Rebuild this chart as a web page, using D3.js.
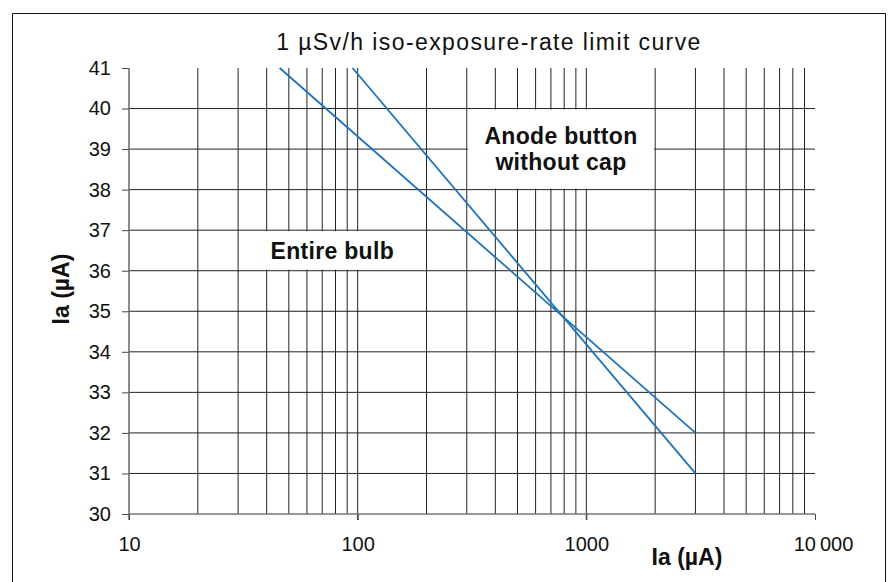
<!DOCTYPE html>
<html>
<head>
<meta charset="utf-8">
<script src="https://cdn.jsdelivr.net/npm/d3@7/dist/d3.min.js"></script>
<style>
  html, body { margin: 0; padding: 0; background: #fff; }
  svg { display: block; }
  text { font-family: "Liberation Sans", Arial, sans-serif; fill: #111; }
</style>
</head>
<body>
<div id="chart"></div>
<script>
// values
var xTickLabels = [10, 100, 1000, 10000];
var yTickLabels = [30, 31, 32, 33, 34, 35, 36, 37, 38, 39, 40, 41];

// both limit curves are straight lines on the log axis
var entireBulb = [[45.6, 41], [3000, 32]];
var anodeButton = [[95, 41], [3000, 31]];

var labels = [
  {lines: ['Entire bulb'], x0: 30, x1: 200, y0: 36, y1: 37},
  {lines: ['Anode button', 'without cap'], x0: 300, x1: 2000, y0: 38, y1: 40}
];

var width = 888, height = 582;

var svg = d3.select('#chart').append('svg')
  .attr('width', width)
  .attr('height', height);

var x = d3.scaleLog().domain([10, 10000]).range([129, 815]);
var y = d3.scaleLinear().domain([30, 41]).range([514, 68]);

// frame around the whole figure (bottom edge runs off the picture)
svg.append('path')
  .attr('d', 'M12.5,600V13.5H885.5V600')
  .attr('fill', 'none')
  .attr('stroke', '#111')
  .attr('stroke-width', 1);

svg.append('text')
  .attr('x', 489)
  .attr('y', 50)
  .attr('text-anchor', 'middle')
  .style('font-size', '23px')
  .style('letter-spacing', '1.4px')
  .text('1 \u00b5Sv/h iso-exposure-rate limit curve');

var grid = svg.append('g');

// horizontal grid 31..40
grid.selectAll('.hline')
  .data(yTickLabels.filter(function (d) { return d > 30 && d < 41; }))
  .enter().append('line')
  .attr('x1', x(10))
  .attr('x2', x(10000))
  .attr('y1', function (d) { return y(d); })
  .attr('y2', function (d) { return y(d); })
  .attr('stroke', '#222')
  .attr('stroke-width', 1);

// vertical grid at every 1-9 step of each decade
var minor = x.ticks().filter(function (d) { return d > 10 && d < 10000; });
grid.selectAll('.vline')
  .data(minor)
  .enter().append('line')
  .attr('x1', function (d) { return x(d); })
  .attr('x2', function (d) { return x(d); })
  .attr('y1', y(41))
  .attr('y2', function (d) { return xTickLabels.indexOf(d) >= 0 ? y(30) + 6 : y(30); })
  .attr('stroke', '#222')
  .attr('stroke-width', 1);

// y axis
var yAxis = d3.axisLeft(y)
  .tickValues(yTickLabels)
  .tickSize(7)
  .tickPadding(11)
  .tickFormat(d3.format('d'));
var gy = svg.append('g')
  .attr('transform', 'translate(' + x(10) + ',0)')
  .call(yAxis);
gy.select('.domain').remove();
gy.append('line')
  .attr('x1', 0).attr('x2', 0)
  .attr('y1', y(41)).attr('y2', y(30) + 6)
  .attr('stroke', '#666').attr('stroke-width', 1.5);
gy.selectAll('.tick line').attr('stroke', '#444');
gy.selectAll('.tick text').style('font-size', '20px').attr('fill', '#111');

// x axis
var xAxis = d3.axisBottom(x)
  .tickValues(xTickLabels)
  .tickSize(6)
  .tickPadding(17)
  .tickFormat(function (d) { return d === 10000 ? '10\u2009000' : String(d); });
var gx = svg.append('g')
  .attr('transform', 'translate(0,' + y(30) + ')')
  .call(xAxis);
gx.select('.domain')
  .attr('d', 'M' + x(10) + ',0H' + x(10000))
  .attr('stroke', '#777').attr('stroke-width', 1.6);
gx.selectAll('.tick line').attr('stroke', '#444');
gx.selectAll('.tick text')
  .style('font-size', '20px')
  .attr('fill', '#111')
  .attr('dx', function (d) { return d === 10000 ? 8 : 0; });

// axis titles
svg.append('text')
  .attr('x', 687)
  .attr('y', 565)
  .attr('text-anchor', 'middle')
  .style('font-size', '23px')
  .style('font-weight', 'bold')
  .text('Ia (\u00b5A)');

svg.append('text')
  .attr('transform', 'translate(69,289) rotate(-90)')
  .attr('text-anchor', 'middle')
  .style('font-size', '23px')
  .style('font-weight', 'bold')
  .text('Ia (\u00b5A)');

// label boxes hide the grid behind them
var lab = svg.selectAll('.lab')
  .data(labels)
  .enter().append('g');

lab.append('rect')
  .attr('x', function (d) { return x(d.x0) + 1; })
  .attr('y', function (d) { return y(d.y1) + 1; })
  .attr('width', function (d) { return x(d.x1) - x(d.x0) - 2; })
  .attr('height', function (d) { return y(d.y0) - y(d.y1) - 2; })
  .attr('fill', '#fff');

lab.each(function (d) {
  var g = d3.select(this);
  var cx = (x(d.x0) + x(d.x1)) / 2;
  var cy = (y(d.y0) + y(d.y1)) / 2;
  var lh = 26;
  d.lines.forEach(function (t, i) {
    g.append('text')
      .attr('x', cx)
      .attr('y', cy + (i - (d.lines.length - 1) / 2) * lh)
      .attr('dy', '0.36em')
      .attr('text-anchor', 'middle')
      .style('font-size', '23px')
      .style('font-weight', 'bold')
      .style('letter-spacing', '0.3px')
      .text(t);
  });
});

// curves
var line = d3.line()
  .x(function (d) { return x(d[0]); })
  .y(function (d) { return y(d[1]); });

svg.selectAll('.curve')
  .data([entireBulb, anodeButton])
  .enter().append('path')
  .attr('d', line)
  .attr('fill', 'none')
  .attr('stroke', '#1a73c2')
  .attr('stroke-width', 1.8);
</script>
</body>
</html>
